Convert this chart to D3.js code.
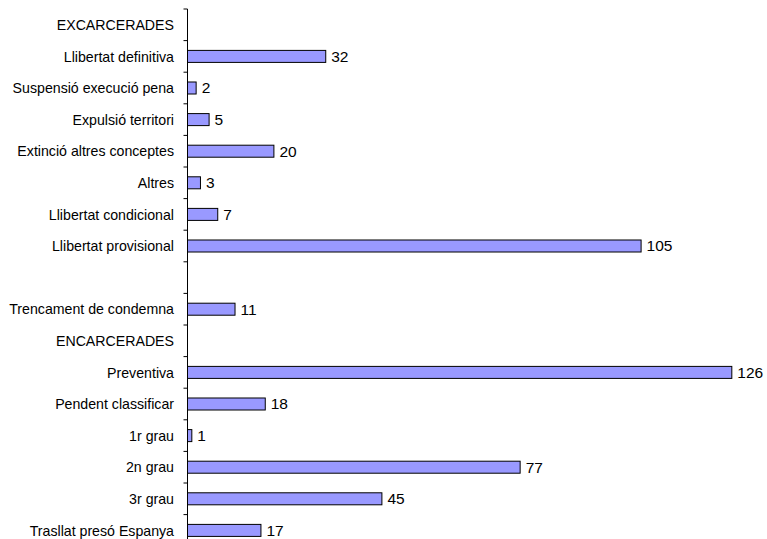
<!DOCTYPE html>
<html>
<head>
<meta charset="utf-8">
<script src="https://cdn.jsdelivr.net/npm/d3@7"></script>
<style>
  html, body { margin: 0; padding: 0; background: #fff; }
  svg { display: block; }
  text { font-family: "Liberation Sans", Arial, sans-serif; fill: #000; }
</style>
</head>
<body>
<svg id="chart" width="767" height="539"></svg>
<script>
const categories = [
  "EXCARCERADES",
  "Llibertat definitiva",
  "Suspensió execució pena",
  "Expulsió territori",
  "Extinció altres conceptes",
  "Altres",
  "Llibertat condicional",
  "Llibertat provisional",
  " ",
  "Trencament de condemna",
  "ENCARCERADES",
  "Preventiva",
  "Pendent classificar",
  "1r grau",
  "2n grau",
  "3r grau",
  "Trasllat presó Espanya"
];
const values = [null, 32, 2, 5, 20, 3, 7, 105, null, 11, null, 126, 18, 1, 77, 45, 17];

(function () {
const svg = d3.select("#chart");
const x0 = 187.5, bandStep = 31.6, plotTop = 9;

const y = d3.scaleBand()
  .domain(categories)
  .range([plotTop, plotTop + bandStep * categories.length])
  .padding(0);

const x = d3.scaleLinear()
  .domain([0, 126])
  .range([x0, x0 + 4.32 * 126]);

const barH = y.bandwidth() * 0.38;
const rows = categories.map((c, i) => ({ c, v: values[i] })).filter(d => d.v != null);

// bars
svg.append("g").selectAll("rect")
  .data(rows)
  .join("rect")
  .attr("x", x(0))
  .attr("y", d => y(d.c) + (y.bandwidth() - barH) / 2)
  .attr("width", d => x(d.v) - x(0))
  .attr("height", barH)
  .attr("fill", "#9999FF")
  .attr("stroke", "#000")
  .attr("stroke-width", 1);

// value labels
svg.append("g").selectAll("text")
  .data(rows)
  .join("text")
  .attr("x", d => x(d.v) + 5.5)
  .attr("y", d => y(d.c) + y.bandwidth() / 2)
  .attr("dy", "0.35em")
  .style("font-size", "15.5px")
  .text(d => d.v);

// axis line and ticks at band boundaries
const axis = svg.append("g");
axis.append("line")
  .attr("x1", x0).attr("x2", x0)
  .attr("y1", y.range()[0]).attr("y2", y.range()[1])
  .attr("stroke", "#000").attr("stroke-width", 1);
const bounds = categories.map(c => y(c)).concat([y.range()[1]]);
axis.selectAll("line.tick")
  .data(bounds)
  .join("line")
  .attr("class", "tick")
  .attr("x1", x0 - 4).attr("x2", x0)
  .attr("y1", d => d).attr("y2", d => d)
  .attr("stroke", "#000").attr("stroke-width", 1);

// category labels (slightly condensed)
svg.append("g").selectAll("text")
  .data(categories)
  .join("text")
  .attr("transform", d => `translate(174,${y(d) + y.bandwidth() / 2}) scale(0.945,1)`)
  .attr("dy", "0.35em")
  .attr("text-anchor", "end")
  .style("font-size", "15px")
  .text(d => d);
})();
</script>
</body>
</html>
